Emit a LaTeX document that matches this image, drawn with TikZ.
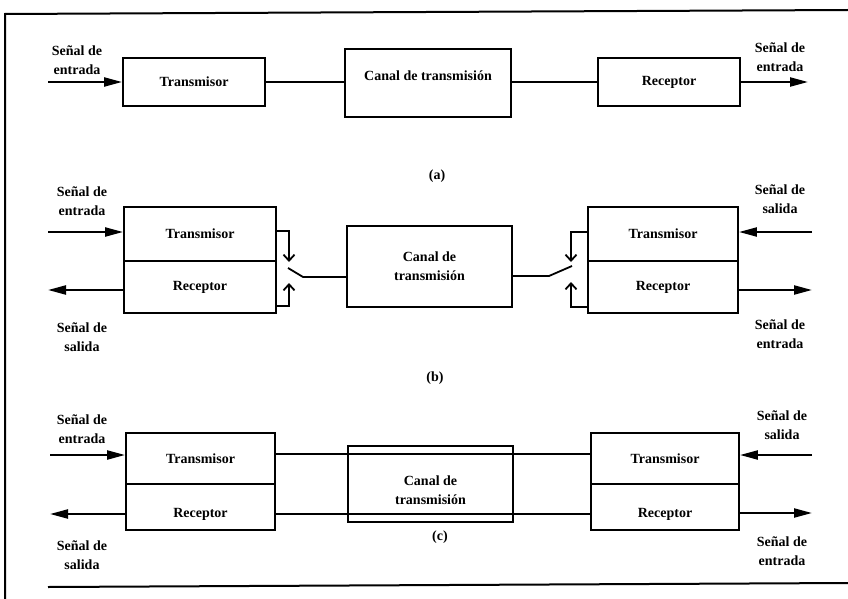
\documentclass[tikz,border=0pt]{standalone}
\usepackage{fontspec}
\setmainfont{Liberation Serif}
\usetikzlibrary{arrows.meta}
\begin{document}
\begin{tikzpicture}[x=1pt,y=-1pt,
  every node/.style={font=\fontsize{14}{19}\selectfont\bfseries},
  block/.style={draw, line width=1.9pt, inner sep=0pt, align=center},
  wire/.style={line width=1.8pt},
  sig/.style={line width=2.2pt, -{Triangle[length=18pt,width=9pt]}},
  sw/.style={line width=1.8pt, -{Straight Barb[length=6pt,width=11pt]}},
  tag/.style={align=center, inner sep=0pt},
  frame/.style={line width=2pt},
]
\useasboundingbox (0,0) rectangle (848,599);

% outer frame
\draw[frame] (5,599) -- (5,14) -- (848,10);
\draw[frame] (48,587) -- (848,583);

% ---------- (a) simplex link ----------
\node[block, minimum width=142pt, minimum height=48pt] (txA) at (194,82) {Transmisor};
\node[block, minimum width=166pt, minimum height=68pt] (canalA) at (428,83) {};
\node (canalAtxt) at (428,76) {Canal de transmisión};
\node[block, minimum width=142pt, minimum height=48pt] (rxA) at (669,82) {Receptor};
\coordinate (inA) at (48,82);
\coordinate (outA) at (808,82);
\draw[sig] (inA) -- (txA.west);
\draw[wire] (txA.east) -- (txA.east -| canalA.west);
\draw[wire] (rxA.west -| canalA.east) -- (rxA.west);
\draw[sig] (rxA.east) -- (outA);
\node[tag] (lblA1) at (77,60) {Señal de\\entrada};
\node[tag] (lblA2) at (780,57) {Señal de\\entrada};
\node (capA) at (437,176) {(a)};

% ---------- (b) half duplex with switches ----------
\node[block, minimum width=152pt, minimum height=54pt] (txBL) at (200,234) {Transmisor};
\node[block, minimum width=152pt, minimum height=52pt] (rxBL) at (200,287) {Receptor};
\node[block, minimum width=165pt, minimum height=81pt] (canalB) at (429.5,266.5) {Canal de\\transmisión};
\node[block, minimum width=150pt, minimum height=54pt] (txBR) at (663,234) {Transmisor};
\node[block, minimum width=150pt, minimum height=52pt] (rxBR) at (663,287) {Receptor};

% left switch
\coordinate (ltA) at (289,262);
\coordinate (lbA) at (289,283);
\coordinate (bladeL) at (288,268);
\coordinate (kneeL) at (303,277);
\draw[sw] ([yshift=3pt]txBL.east) -| (ltA);
\draw[sw] ([yshift=8pt]rxBL.south east) -| (lbA);
\draw[wire] (bladeL) -- (kneeL) -- (kneeL -| canalB.west);

% right switch
\coordinate (rtA) at (571,262);
\coordinate (rbA) at (571,282);
\coordinate (bladeR) at (572,266);
\coordinate (kneeR) at (549,276);
\draw[sw] ([yshift=2pt]txBR.west) -| (rtA);
\draw[sw] ([yshift=7pt]rxBR.south west) -| (rbA);
\draw[wire] (bladeR) -- (kneeR) -- (kneeR -| canalB.east);

\coordinate (inBL) at (48,232);
\coordinate (outBL) at (48,290);
\coordinate (inBR) at (812,232);
\coordinate (outBR) at (812,290);
\draw[sig] (inBL) -- (inBL -| txBL.west);
\draw[sig] (rxBL.west |- outBL) -- (outBL);
\draw[sig] (inBR) -- (inBR -| txBR.east);
\draw[sig] (rxBR.east |- outBR) -- (outBR);

\node[tag] (lblB1) at (82,201) {Señal de\\entrada};
\node[tag] (lblB2) at (82,337) {Señal de\\salida};
\node[tag] (lblB3) at (780,199) {Señal de\\salida};
\node[tag] (lblB4) at (780,334) {Señal de\\entrada};
\node (capB) at (435,378) {(b)};

% ---------- (c) full duplex ----------
\node[block, minimum width=149pt, minimum height=51pt] (txCL) at (200.5,458.5) {Transmisor};
\node[block, minimum width=149pt, minimum height=46pt, label={[yshift=-7pt]center:Receptor}] (rxCL) at (200.5,507) {};
\node[block, minimum width=148pt, minimum height=51pt] (txCR) at (665,458.5) {Transmisor};
\node[block, minimum width=148pt, minimum height=46pt, label={[yshift=-7pt]center:Receptor}] (rxCR) at (665,507) {};
\node[block, minimum width=165pt, minimum height=76pt] (canalC) at (430.5,484) {};
\node[tag] (canalCtxt) at (430.5,490) {Canal de\\transmisión};

\coordinate (upC) at (0,454);
\coordinate (loC) at (0,514);
\draw[wire] (txCL.east |- upC) -- (txCR.west |- upC);
\draw[wire] (rxCL.east |- loC) -- (rxCR.west |- loC);

\coordinate (inCL) at (50,455);
\coordinate (outCL) at (50,514);
\coordinate (inCR) at (812,455);
\coordinate (outCR) at (812,513);
\draw[sig] (inCL) -- (inCL -| txCL.west);
\draw[sig] (rxCL.west |- outCL) -- (outCL);
\draw[sig] (inCR) -- (inCR -| txCR.east);
\draw[sig] (rxCR.east |- outCR) -- (outCR);

\node[tag] (lblC1) at (82,429) {Señal de\\entrada};
\node[tag] (lblC2) at (82,555) {Señal de\\salida};
\node[tag] (lblC3) at (782,425) {Señal de\\salida};
\node[tag] (lblC4) at (782,551) {Señal de\\entrada};
\node (capC) at (440,537) {(c)};
\end{tikzpicture}
\end{document}
